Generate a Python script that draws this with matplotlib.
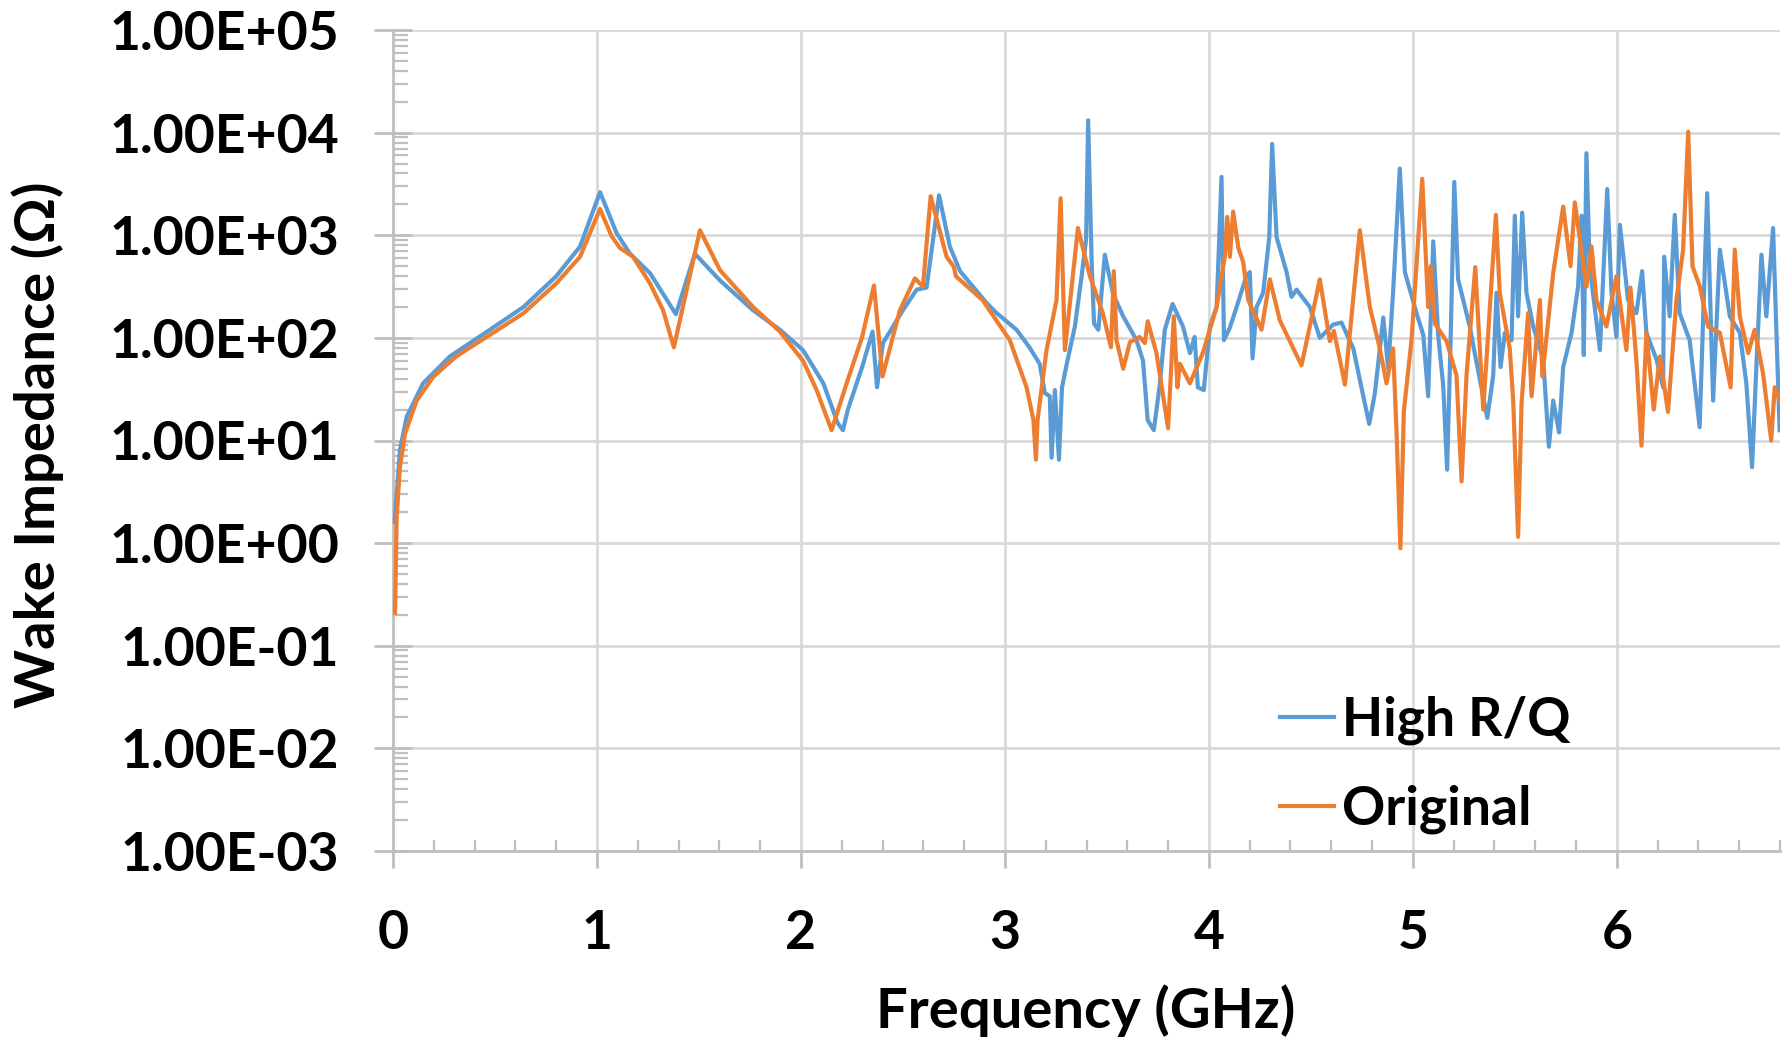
import matplotlib
matplotlib.use("Agg")
import matplotlib.pyplot as plt
from matplotlib.ticker import LogLocator, FuncFormatter, MultipleLocator, NullFormatter

# ---- data ----
freq_high = [0.008, 0.034, 0.067, 0.147, 0.279, 0.475, 0.64, 0.80, 0.917, 1.015,
             1.096, 1.162, 1.26, 1.387, 1.48, 1.603, 1.765, 1.897, 2.01, 2.11,
             2.18, 2.206, 2.23, 2.30, 2.351, 2.373, 2.402, 2.50, 2.567, 2.616,
             2.677, 2.73, 2.78, 2.91, 2.96, 3.057, 3.12, 3.17, 3.196, 3.22,
             3.229, 3.245, 3.265, 3.28, 3.30, 3.343, 3.376, 3.398, 3.408, 3.425,
             3.437, 3.458, 3.49, 3.53, 3.58, 3.645, 3.677, 3.70, 3.73, 3.76,
             3.784, 3.822, 3.873, 3.907, 3.93, 3.946, 3.975, 4.005, 4.038, 4.062,
             4.074, 4.103, 4.136, 4.185, 4.201, 4.214, 4.234, 4.266, 4.296, 4.310,
             4.332, 4.381, 4.405, 4.430, 4.495, 4.544, 4.610, 4.650, 4.708, 4.757,
             4.786, 4.814, 4.855, 4.879, 4.903, 4.936, 4.961, 5.018, 5.051, 5.075,
             5.100, 5.124, 5.149, 5.168, 5.185, 5.203, 5.222, 5.247, 5.280, 5.312,
             5.365, 5.394, 5.41, 5.43, 5.451, 5.484, 5.500, 5.516, 5.536, 5.557,
             5.590, 5.639, 5.667, 5.688, 5.717, 5.737, 5.778, 5.810, 5.827, 5.838,
             5.851, 5.867, 5.917, 5.953, 5.974, 5.998, 6.015, 6.055, 6.096, 6.124,
             6.145, 6.194, 6.227, 6.232, 6.259, 6.284, 6.308, 6.357, 6.406, 6.443,
             6.472, 6.505, 6.554, 6.603, 6.635, 6.663, 6.684, 6.709, 6.733, 6.766,
             6.798]
z_high = [1.6, 8.1, 17, 36, 66, 120, 200, 398, 776, 2630,
          1050, 661, 427, 170, 661, 363, 186, 120, 76, 36,
          14.8, 12.6, 20, 52, 115, 33, 89, 186, 295, 309,
          2450, 776, 447, 219, 174, 120, 81, 56, 29, 27,
          6.8, 31, 6.5, 33, 52, 129, 398, 912, 13200, 575,
          138, 120, 646, 269, 162, 95, 60, 15.8, 12.6, 36,
          120, 214, 129, 71, 102, 33, 31, 129, 200, 3700,
          95, 126, 200, 407, 437, 63, 200, 275, 955, 7760,
          955, 437, 251, 295, 200, 100, 135, 141, 79, 27,
          14.5, 29, 158, 50, 275, 4470, 437, 174, 107, 27,
          871, 107, 34, 5.2, 93, 3310, 372, 234, 126, 58,
          16.6, 43, 275, 52, 112, 95, 1550, 162, 1660, 275,
          129, 62, 8.7, 24.5, 12, 52, 112, 316, 1550, 68,
          6300, 500, 76, 2820, 275, 102, 1260, 234, 174, 447,
          112, 62, 33, 617, 162, 1580, 174, 95, 13.5, 2570,
          24.5, 724, 162, 112, 36, 5.5, 52, 646, 162, 1175,
          12.6]

freq_orig = [0.01, 0.018, 0.034, 0.059, 0.116, 0.197, 0.31, 0.475, 0.64, 0.80,
             0.917, 1.015, 1.072, 1.113, 1.177, 1.26, 1.324, 1.377, 1.505, 1.603,
             1.765, 1.897, 2.01, 2.077, 2.15, 2.224, 2.30, 2.358, 2.40, 2.485,
             2.559, 2.598, 2.636, 2.714, 2.75, 2.76, 2.89, 3.024, 3.106, 3.14,
             3.152, 3.16, 3.204, 3.253, 3.273, 3.294, 3.358, 3.417, 3.48, 3.52,
             3.534, 3.547, 3.58, 3.613, 3.66, 3.686, 3.70, 3.743, 3.80, 3.828,
             3.846, 3.858, 3.907, 3.97, 4.038, 4.078, 4.09, 4.103, 4.119, 4.144,
             4.168, 4.193, 4.258, 4.299, 4.348, 4.454, 4.544, 4.593, 4.613, 4.667,
             4.740, 4.789, 4.838, 4.871, 4.903, 4.920, 4.939, 4.956, 4.993, 5.046,
             5.075, 5.088, 5.108, 5.165, 5.214, 5.239, 5.263, 5.306, 5.345, 5.407,
             5.426, 5.475, 5.492, 5.516, 5.533, 5.565, 5.582, 5.623, 5.635, 5.688,
             5.737, 5.773, 5.794, 5.851, 5.876, 5.900, 5.949, 5.998, 6.047, 6.067,
             6.096, 6.121, 6.145, 6.181, 6.211, 6.251, 6.292, 6.325, 6.350, 6.371,
             6.407, 6.447, 6.505, 6.558, 6.578, 6.603, 6.644, 6.676, 6.717, 6.757,
             6.774, 6.798]
z_orig = [0.21, 1.8, 5.5, 11.7, 24.5, 41.7, 66, 107, 174, 339,
          617, 1800, 977, 750, 617, 339, 186, 81, 1120, 457,
          200, 115, 60, 31, 12.6, 36, 102, 324, 42, 186,
          380, 316, 2400, 617, 490, 398, 234, 95, 33, 15.8,
          6.5, 15.8, 76, 234, 2290, 76, 1175, 398, 174, 81,
          447, 95, 50, 91, 102, 89, 145, 71, 13.2, 162,
          33, 56, 36, 71, 200, 617, 1510, 617, 1700, 760,
          550, 234, 120, 372, 148, 54, 372, 93, 117, 35,
          1120, 200, 79, 36, 79, 12.3, 0.89, 19.5, 93, 3550,
          200, 500, 138, 93, 43, 4.0, 43, 490, 20, 1580,
          275, 79, 24.5, 1.15, 23, 174, 27, 234, 42, 427,
          1900, 500, 2090, 316, 776, 234, 129, 398, 76, 309,
          60, 8.9, 112, 20, 66, 19, 234, 724, 10200, 500,
          316, 129, 112, 33, 724, 162, 71, 120, 45, 10,
          33, 24.5]

series_labels = ["High R/Q", "Original"]
x_label = "Frequency (GHz)"
y_label = "Wake Impedance (\u03a9)"
x_major_ticks = [0, 1, 2, 3, 4, 5, 6]

# ---- style ----
FONT = ["Lato", "DejaVu Sans"]
plt.rcParams["font.family"] = FONT
plt.rcParams["font.weight"] = "bold"
BLUE = "#5B9BD5"
ORANGE = "#ED7D31"
GRID = "#D9D9D9"
SPINE = "#BFBFBF"
FS = 38.5
FS_LAB = 40.5

W, H = 1789, 1039
fig = plt.figure(figsize=(W / 100, H / 100), dpi=100)
ax = fig.add_axes([393 / W, (H - 851) / H, 1387 / W, 821 / H])

ax.plot(freq_high, z_high, color=BLUE, lw=3.0, label=series_labels[0], zorder=3,
        solid_joinstyle="round")
ax.plot(freq_orig, z_orig, color=ORANGE, lw=3.0, label=series_labels[1], zorder=4,
        solid_joinstyle="round")

ax.set_yscale("log")
ax.set_ylim(1e-3, 1e5)
ax.set_xlim(0, 6.8)

ax.yaxis.set_major_locator(LogLocator(base=10, numticks=20))
ax.yaxis.set_minor_locator(LogLocator(base=10, subs=range(2, 10), numticks=20))
ax.yaxis.set_minor_formatter(NullFormatter())
ax.yaxis.set_major_formatter(FuncFormatter(lambda v, p: f"{v:.2E}"))
ax.set_xticks(x_major_ticks)
ax.xaxis.set_minor_locator(MultipleLocator(0.2))

ax.grid(True, which="major", color=GRID, lw=2.0, zorder=0)
ax.set_axisbelow(True)
for s in ["top", "right"]:
    ax.spines[s].set_visible(False)
for s in ["left", "bottom"]:
    ax.spines[s].set_color(SPINE)
    ax.spines[s].set_linewidth(2.0)

ax.tick_params(axis="y", which="major", direction="inout", length=27, width=2.0,
               color=SPINE, labelsize=FS, pad=25)
ax.tick_params(axis="y", which="minor", direction="in", length=11, width=1.6,
               color=SPINE)
ax.tick_params(axis="x", which="major", direction="out", length=12, width=2.0,
               color=SPINE, labelsize=FS, pad=30)
ax.tick_params(axis="x", which="minor", direction="in", length=8, width=1.6,
               color=SPINE)
for lab in ax.get_xticklabels() + ax.get_yticklabels():
    lab.set_fontweight("bold")

ax.set_xlabel(x_label, fontsize=FS_LAB, fontweight="bold", va="center")
ax.set_ylabel(y_label, fontsize=FS_LAB, fontweight="bold", va="center")
ax.xaxis.set_label_coords(0.4997, -0.194)
ax.yaxis.set_label_coords(-0.256, 0.495)

leg = ax.legend(loc="center left", bbox_to_anchor=(0.62, 0.105), frameon=False,
                handlelength=1.02, handletextpad=0.15,
                labelspacing=0.74, borderpad=0, prop={"weight": "bold", "size": FS})
for line in leg.get_lines():
    line.set_linewidth(3)

fig.savefig("out.png", dpi=100)
